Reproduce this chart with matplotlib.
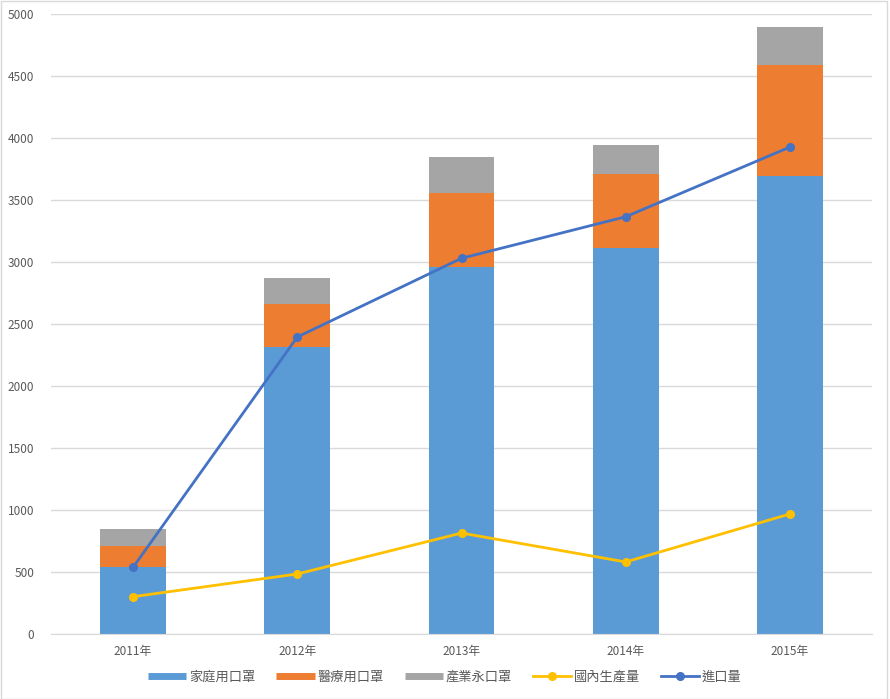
import matplotlib
matplotlib.use("Agg")
import matplotlib.pyplot as plt
from matplotlib.patches import Rectangle
from matplotlib.lines import Line2D
import numpy as np

plt.rcParams['font.family'] = ['Noto Sans CJK TC', 'DejaVu Sans']

years = ["2011年", "2012年", "2013年", "2014年", "2015年"]
household = [543, 2315, 2957, 3115, 3691]
medical = [169, 346, 602, 592, 900]
industrial = [135, 210, 285, 239, 302]
domestic_prod = [301, 484, 814, 581, 968]
imports = [538, 2395, 3030, 3365, 3927]
labels = ["家庭用口罩", "醫療用口罩", "產業永口罩", "國內生產量", "進口量"]

c_blue = "#5B9BD5"
c_orange = "#ED7D31"
c_grey = "#A5A5A5"
c_yellow = "#FFC000"
c_dblue = "#4472C4"

W, H = 890, 699
fig = plt.figure(figsize=(W / 100, H / 100), dpi=100)
ax = fig.add_axes([51 / W, (H - 634) / H, (872 - 51) / W, (634 - 14) / H])

x = np.arange(len(years))
bw = 0.4
b1 = np.array(household)
b2 = b1 + np.array(medical)
ax.bar(x, household, bw, color=c_blue, zorder=2)
ax.bar(x, medical, bw, bottom=b1, color=c_orange, zorder=2)
ax.bar(x, industrial, bw, bottom=b2, color=c_grey, zorder=2)
ax.plot(x, domestic_prod, color=c_yellow, lw=2, marker='o', ms=5.5, zorder=3)
ax.plot(x, imports, color=c_dblue, lw=2, marker='o', ms=5.5, zorder=3)

ax.set_xlim(-0.5, 4.5)
ax.set_ylim(0, 5000)
ax.set_yticks(range(0, 5001, 500))
ax.set_xticks(x)
ax.set_xticklabels(years)
ax.grid(axis='y', color='#D9D9D9', lw=1, zorder=0)
for s in ['top', 'right', 'left']:
    ax.spines[s].set_visible(False)
ax.spines['bottom'].set_color('#D9D9D9')
ax.tick_params(axis='both', length=0, colors='#595959', labelsize=8.5)
ax.tick_params(axis='y', pad=12)
ax.tick_params(axis='x', pad=8)

handles = [
    Line2D([], [], color=c_blue, lw=5, solid_capstyle='butt'),
    Line2D([], [], color=c_orange, lw=5, solid_capstyle='butt'),
    Line2D([], [], color=c_grey, lw=5, solid_capstyle='butt'),
    Line2D([], [], color=c_yellow, lw=2, marker='o', ms=5.5),
    Line2D([], [], color=c_dblue, lw=2, marker='o', ms=5.5),
]
leg = fig.legend(handles, labels, loc='center', bbox_to_anchor=(0.5, (H - 677) / H), ncol=5, frameon=False,
                 fontsize=9.5, handlelength=2.9, columnspacing=1.6, handletextpad=0.2)
for t in leg.get_texts():
    t.set_color('#595959')

fig.patches.append(Rectangle((0.5 / W, 0.5 / H), (W - 4) / W, (H - 1.5) / H, transform=fig.transFigure,
                             fill=False, edgecolor='#D9D9D9', lw=1))

fig.savefig("out.png", dpi=100)
